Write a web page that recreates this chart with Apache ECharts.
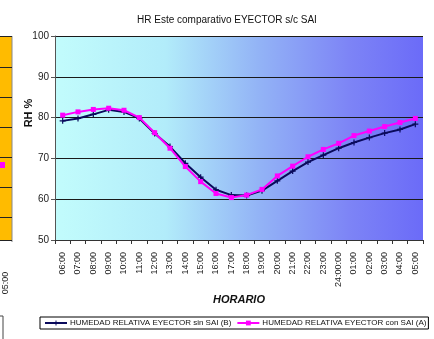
<!DOCTYPE html>
<html><head><meta charset="utf-8">
<script src="https://cdn.jsdelivr.net/npm/echarts@6/dist/echarts.min.js"></script>
<style>html,body{margin:0;padding:0;background:#fff}#c{width:434px;height:339px}</style>
</head><body><div id="c"></div>
<script>
const categories = ['06:00','07:00','08:00','09:00','10:00','11:00','12:00','13:00','14:00','15:00','16:00','17:00','18:00','19:00','20:00','21:00','22:00','23:00','24:00:00','01:00','02:00','03:00','04:00','05:00'];
const sinSAI = [79.2,79.8,80.8,81.9,81.4,79.8,76.1,72.9,68.8,65.4,62.3,61.0,60.9,62.1,64.5,66.9,69.1,70.8,72.5,73.9,75.1,76.2,77.1,78.4];
const conSAI = [80.6,81.4,82.0,82.3,81.8,80.0,76.3,72.5,68.0,64.3,61.4,60.4,61.0,62.4,65.7,68.1,70.4,72.2,73.7,75.6,76.7,77.8,78.8,79.8];
const yTicks = [50,60,70,80,90,100];

const F = '"Liberation Sans Narrow", "Liberation Sans", Arial, sans-serif';
const chart = echarts.init(document.getElementById('c'));
const plusPath = 'path://M4,0 L6,0 L6,4 L10,4 L10,6 L6,6 L6,10 L4,10 L4,6 L0,6 L0,4 L4,4 Z';
chart.setOption({
  animation: false,
  title: {
    text: 'HR Este comparativo EYECTOR s/c SAI',
    left: 132, top: 10,
    textStyle: {fontFamily: F, fontSize: 10, fontWeight: 'normal', color: '#111'}
  },
  grid: {left: 55, right: 11, top: 36, bottom: 99, show: true, borderWidth: 0,
    backgroundColor: {type: 'linear', x: 0, y: 0, x2: 1, y2: 0, colorStops: [
      {offset: 0, color: '#c2fcfc'}, {offset: 0.3, color: '#b2ecfa'},
      {offset: 0.55, color: '#93b4f6'}, {offset: 0.8, color: '#7d84f6'}, {offset: 1, color: '#6b6bf8'}]}},
  xAxis: {
    type: 'category', data: categories, boundaryGap: true,
    name: 'HORARIO', nameLocation: 'middle', nameGap: 51,
    nameTextStyle: {fontFamily: F, fontSize: 11, fontWeight: 'bold', fontStyle: 'italic', color: '#111'},
    axisLine: {lineStyle: {color: '#333', width: 1}},
    axisTick: {show: true, alignWithLabel: false, length: 4, lineStyle: {color: '#333'}},
    axisLabel: {rotate: 90, interval: 0, fontFamily: '"Liberation Sans", Arial, sans-serif', fontSize: 9, color: '#222', margin: 12}
  },
  yAxis: {
    type: 'value', min: 50, max: 100, interval: 10,
    axisLine: {show: true, lineStyle: {color: '#555'}},
    axisTick: {show: true, length: 4, lineStyle: {color: '#555'}},
    axisLabel: {fontFamily: F, fontSize: 10, color: '#222', margin: 6,
      formatter: v => yTicks.includes(v) ? String(v) : ''},
    splitLine: {show: true, lineStyle: {color: '#1a1a1a', width: 1}}
  },
  legend: {
    left: 40, top: 317, width: 400, padding: [2, 2, 2, 4], itemGap: 5, itemWidth: 22, itemHeight: 6,
    borderColor: '#000', borderWidth: 1,
    textStyle: {fontFamily: F, fontSize: 8, color: '#111', padding: [0, 0, 0, -2]},
    data: ['HUMEDAD RELATIVA EYECTOR sin SAI (B)', 'HUMEDAD RELATIVA EYECTOR con SAI (A)']
  },
  series: [
    {name: 'HUMEDAD RELATIVA EYECTOR sin SAI (B)', type: 'line', data: sinSAI, smooth: false,
      symbol: plusPath, symbolSize: 6, showAllSymbol: true,
      lineStyle: {color: '#0a0a5c', width: 2}, itemStyle: {color: '#0a0a5c'}, z: 3},
    {name: 'HUMEDAD RELATIVA EYECTOR con SAI (A)', type: 'line', data: conSAI,
      symbol: 'rect', symbolSize: 5, showAllSymbol: true,
      lineStyle: {color: '#ff00ff', width: 2}, itemStyle: {color: '#ff00ff'}, z: 4}
  ],
  graphic: [
    {type: 'rect', shape: {x: 0, y: 36, width: 12, height: 204}, style: {fill: '#ffbb00'}, silent: true},
    {type: 'line', shape: {x1: 12, y1: 36, x2: 12, y2: 242}, style: {stroke: '#888', lineWidth: 1}},
    {type: 'line', shape: {x1: 0, y1: 36.5, x2: 12, y2: 36.5}, style: {stroke: '#222', lineWidth: 1}},
    {type: 'line', shape: {x1: 0, y1: 67.5, x2: 12, y2: 67.5}, style: {stroke: '#222', lineWidth: 1}},
    {type: 'line', shape: {x1: 0, y1: 97.5, x2: 12, y2: 97.5}, style: {stroke: '#222', lineWidth: 1}},
    {type: 'line', shape: {x1: 0, y1: 127.5, x2: 12, y2: 127.5}, style: {stroke: '#222', lineWidth: 1}},
    {type: 'line', shape: {x1: 0, y1: 157.5, x2: 12, y2: 157.5}, style: {stroke: '#222', lineWidth: 1}},
    {type: 'line', shape: {x1: 0, y1: 187.5, x2: 12, y2: 187.5}, style: {stroke: '#222', lineWidth: 1}},
    {type: 'line', shape: {x1: 0, y1: 217.5, x2: 12, y2: 217.5}, style: {stroke: '#222', lineWidth: 1}},
    {type: 'line', shape: {x1: 0, y1: 240.5, x2: 12, y2: 240.5}, style: {stroke: '#222', lineWidth: 1}},
    {type: 'rect', shape: {x: 0, y: 162, width: 5, height: 6}, style: {fill: '#ff00ff'}},
    {type: 'text', x: 6, y: 283, rotation: Math.PI / 2, style: {text: '05:00', font: '9px "Liberation Sans", Arial', fill: '#222', textAlign: 'center', textVerticalAlign: 'middle'}},
    {type: 'rect', shape: {x: -1, y: 316, width: 4, height: 30}, style: {fill: 'none', stroke: '#444', lineWidth: 1}},
    {type: 'text', x: 29, y: 113, rotation: Math.PI / 2, style: {text: 'RH %', font: 'bold 11px "Liberation Sans", Arial', fill: '#111', textAlign: 'center', textVerticalAlign: 'middle'}}
  ]
});
</script></body></html>
